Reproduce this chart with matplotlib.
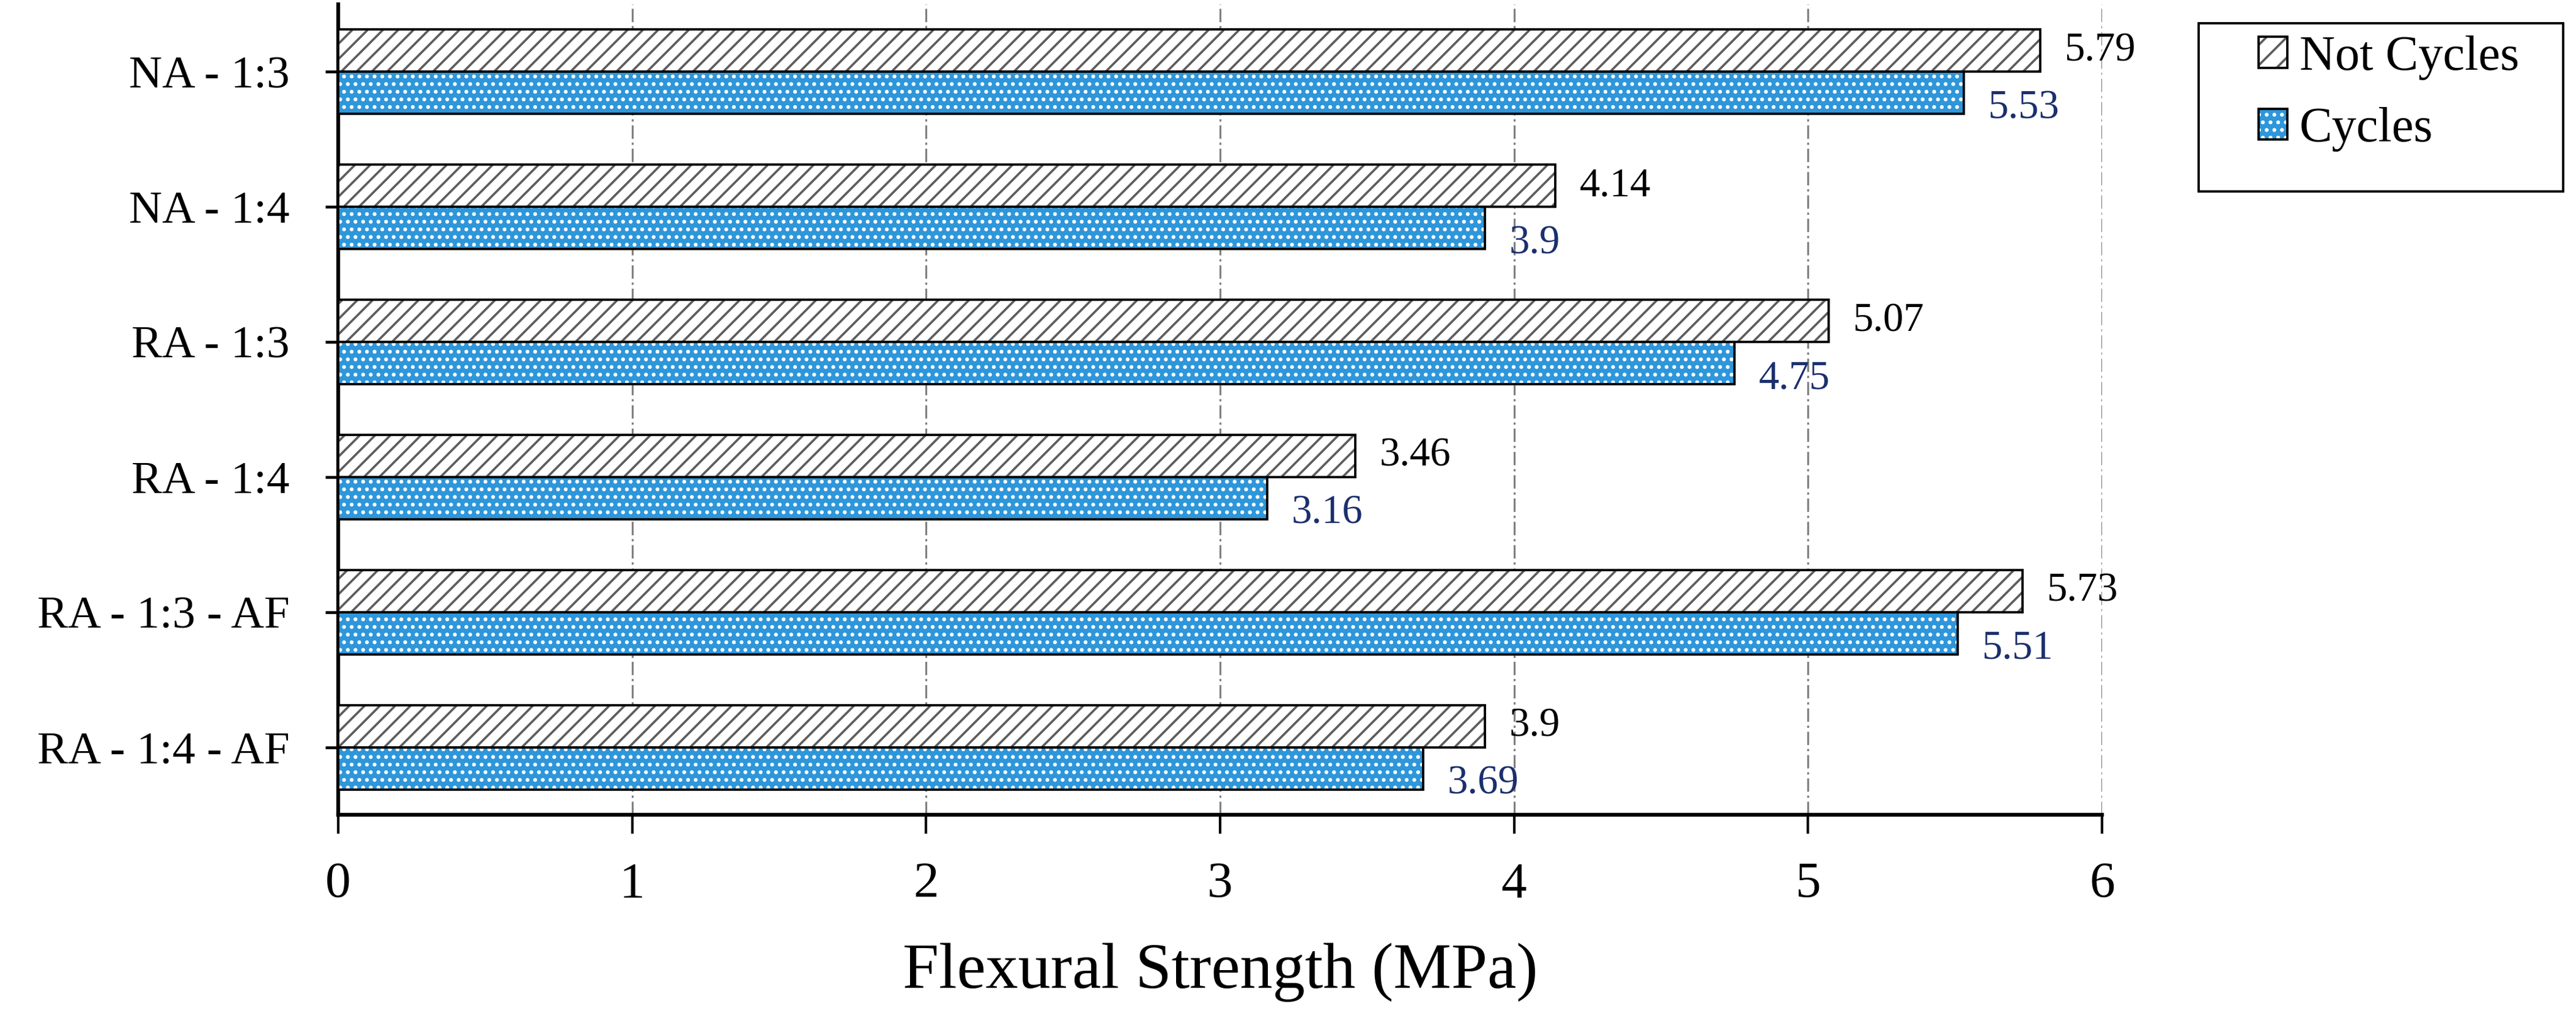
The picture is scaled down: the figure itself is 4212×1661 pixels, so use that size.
import numpy as np
import matplotlib
matplotlib.use("Agg")
import matplotlib.pyplot as plt
from matplotlib.patches import Patch, Rectangle

plt.rcParams['font.family'] = ['Liberation Serif', 'DejaVu Serif']
plt.rcParams['hatch.linewidth'] = 0.9

categories = ['NA - 1:3', 'NA - 1:4', 'RA - 1:3', 'RA - 1:4', 'RA - 1:3 - AF', 'RA - 1:4 - AF']
not_cycles = [5.79, 4.14, 5.07, 3.46, 5.73, 3.9]
cycles = [5.53, 3.9, 4.75, 3.16, 5.51, 3.69]
xticks = [0, 1, 2, 3, 4, 5, 6]

W, H, DPI = 4212, 1661, 300
fig = plt.figure(figsize=(W / DPI, H / DPI), dpi=DPI)
ax = fig.add_axes([553 / W, 1 - 1332 / H, (3437 - 553) / W, (1332 - 7) / H])

y = np.arange(len(categories))
h = 0.3125
blue = '#2E96DA'
hatch_grey = '#5e5e5e'
label_blue = '#1B2F6E'

# not cycles: white + grey diagonal hatch
ax.barh(y - h / 2, not_cycles, height=h, color='white', edgecolor=hatch_grey,
        hatch='////', linewidth=0, zorder=3)
ax.barh(y - h / 2, not_cycles, height=h, fill=False, edgecolor='black',
        linewidth=0.9, zorder=4)
# cycles: blue + white dots
ax.barh(y + h / 2, cycles, height=h, color=blue, linewidth=0, zorder=3)
ax.barh(y + h / 2, cycles, height=h, fill=False, edgecolor='white',
        hatch='....', linewidth=0, zorder=3)
ax.barh(y + h / 2, cycles, height=h, fill=False, edgecolor='black',
        linewidth=0.9, zorder=4)

for yi, v in zip(y, not_cycles):
    ax.annotate(f'{v:g}', (v, yi - h / 2), xytext=(9.5, 0), textcoords='offset points',
                ha='left', va='center', fontsize=16, color='black')
for yi, v in zip(y, cycles):
    ax.annotate(f'{v:g}', (v, yi + h / 2), xytext=(9.5, -6), textcoords='offset points',
                ha='left', va='center', fontsize=16, color=label_blue)

ax.set_xlim(0, 6)
ax.set_ylim(5.5, -0.5)
ax.set_xticks(xticks)
ax.set_yticks(y)
ax.set_yticklabels(categories)
ax.tick_params(axis='x', direction='out', length=7.4, width=1.0, pad=11, labelsize=20)
ax.tick_params(axis='y', direction='out', length=5, width=1.1, pad=14, labelsize=18)

ax.xaxis.grid(True, color='#808080', linewidth=0.75, linestyle=(0, (7, 2, 1.2, 2)), zorder=0)
ax.set_axisbelow(True)
for s in ['top', 'right']:
    ax.spines[s].set_visible(False)
for s in ['left', 'bottom']:
    ax.spines[s].set_linewidth(1.5)

ax.set_xlabel('Flexural Strength (MPa)', fontsize=25.5, va='center')
ax.xaxis.set_label_coords(0.5, -(1590 - 1332) / 1325)

# legend
h_not = (Patch(facecolor='white', edgecolor=hatch_grey, hatch='///', linewidth=0),
         Patch(fill=False, edgecolor='black', linewidth=0.9))
h_cyc = (Patch(facecolor=blue, linewidth=0),
         Patch(fill=False, edgecolor='white', hatch='....', linewidth=0),
         Patch(fill=False, edgecolor='black', linewidth=0.9))
fs = 19.3
fpx = fs * DPI / 72
fig.legend([h_not, h_cyc], ['Not Cycles', 'Cycles'], loc='upper left',
           bbox_to_anchor=(3693 / W, 1 - 58 / H), frameon=False, fontsize=fs,
           handlelength=47 / fpx, handleheight=47 / fpx, handletextpad=20 / fpx,
           labelspacing=0.55, borderpad=0, borderaxespad=0)
fig.patches.append(Rectangle((3595 / W, 1 - 313 / H), (4191 - 3595) / W, (313 - 38) / H,
                             transform=fig.transFigure, fill=False, edgecolor='black',
                             linewidth=0.9))

fig.savefig('out.png', dpi=DPI)
